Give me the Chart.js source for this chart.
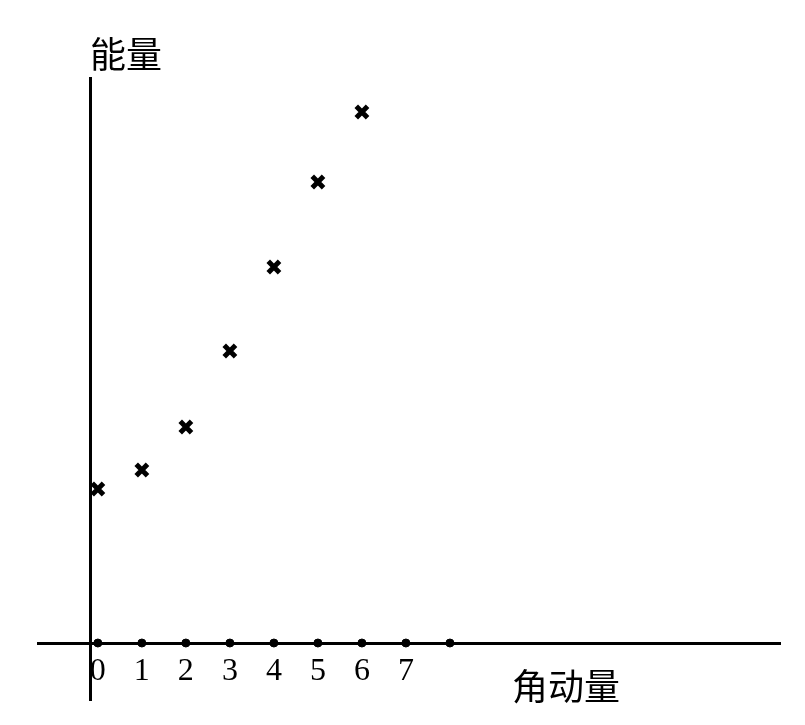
<!DOCTYPE html>
<html>
<head>
<meta charset="utf-8">
<script src="https://cdn.jsdelivr.net/npm/chart.js@4"></script>
<style>
  html, body { margin: 0; padding: 0; background: #fff; }
  #wrap { width: 805px; height: 725px; }
</style>
</head>
<body>
<div id="wrap"><canvas id="eChart"></canvas></div>
<script>
// angular momentum (x) and energy (y) of the plotted crosses
var momentum = [0, 1, 2, 3, 4, 5, 6];
var energy = [1.54, 1.73, 2.16, 2.92, 3.76, 4.61, 5.31];
// dots along the x axis and the labels under them
var dotValues = [0, 1, 2, 3, 4, 5, 6, 7, 8];
var tickValues = [0, 1, 2, 3, 4, 5, 6, 7];
var tickLabels = ['0', '1', '2', '3', '4', '5', '6', '7'];
var yTitle = '能量';
var xTitle = '角动量';

var axisTitles = {
    id: 'axisTitles',
    afterDraw: function (chart) {
        var ctx = chart.ctx;
        ctx.save();
        ctx.fillStyle = '#000';
        ctx.font = '36px "Noto Sans CJK SC"';
        ctx.textBaseline = 'alphabetic';
        ctx.textAlign = 'left';
        ctx.fillText(yTitle, 90, 68);
        ctx.fillText(xTitle, 512, 700);
        ctx.restore();
    }
};

var ctx = document.getElementById("eChart").getContext("2d");
var eChart = new Chart(ctx, {
    type: 'scatter',
    data: {
        datasets: [{
            label: 'energy',
            data: momentum.map(function (m, i) { return { x: m, y: energy[i] }; }),
            pointStyle: 'crossRot',
            pointRadius: 8,
            pointBorderWidth: 5,
            borderColor: '#000',
            backgroundColor: '#000'
        }, {
            label: 'ticks',
            data: dotValues.map(function (v) { return { x: v, y: 0 }; }),
            pointStyle: 'circle',
            pointRadius: 4,
            borderColor: '#000',
            backgroundColor: '#000'
        }]
    },
    options: {
        responsive: true,
        maintainAspectRatio: false,
        animation: false,
        layout: { padding: { left: 38, right: 25, top: 78, bottom: 25 } },
        plugins: {
            legend: { display: false },
            tooltip: { enabled: false }
        },
        scales: {
            x: {
                type: 'linear',
                min: -1.36,
                max: 15.5,
                position: { y: 0 },
                afterBuildTicks: function (scale) {
                    scale.ticks = tickValues.map(function (v) { return { value: v }; });
                },
                ticks: {
                    color: '#000',
                    padding: 1,
                    font: { family: '"Liberation Serif"', size: 32 },
                    callback: function (v) { return tickLabels[tickValues.indexOf(v)]; }
                },
                grid: { display: false },
                border: { display: true, color: '#000', width: 3 }
            },
            y: {
                type: 'linear',
                min: -0.57,
                max: 5.65,
                position: { x: -0.16 },
                ticks: { display: false },
                grid: { display: false },
                border: { display: true, color: '#000', width: 3 }
            }
        }
    },
    plugins: [axisTitles]
});
</script>
</body>
</html>
